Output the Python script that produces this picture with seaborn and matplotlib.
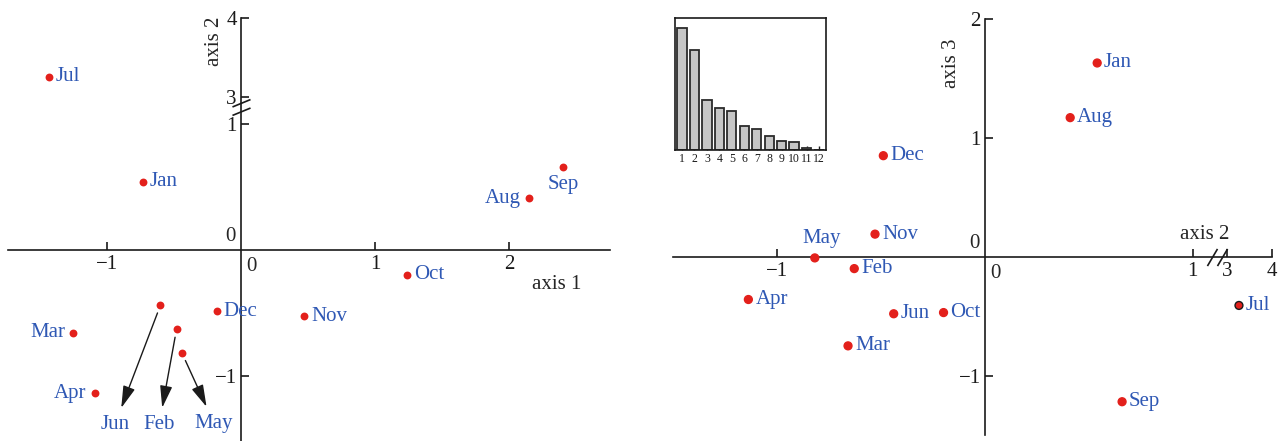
"""
Two ordination panels (axis 1 vs axis 2, axis 2 vs axis 3) with broken axes,
plus a small scree plot of eigenvalues in the second panel.
"""

import numpy as np
import pandas as pd
import matplotlib
matplotlib.use('Agg')
import matplotlib.pyplot as plt
from matplotlib.path import Path
import seaborn as sns

# ---- data ----
months = ['Jan', 'Feb', 'Mar', 'Apr', 'May', 'Jun',
          'Jul', 'Aug', 'Sep', 'Oct', 'Nov', 'Dec']
axis1 = [-0.73, -0.48, -1.25, -1.09, -0.44, -0.60, -1.43, 2.15, 2.40, 1.24, 0.47, -0.18]
axis2 = [0.54, -0.63, -0.66, -1.14, -0.82, -0.44, 3.26, 0.41, 0.66, -0.20, -0.53, -0.49]
axis3 = [1.63, -0.10, -0.75, -0.36, -0.01, -0.48, -0.41, 1.17, -1.22, -0.47, 0.19, 0.85]

components = ['1', '2', '3', '4', '5', '6', '7', '8', '9', '10', '11', '12']
eigenvalues = [3.65, 2.98, 1.50, 1.27, 1.16, 0.73, 0.62, 0.43, 0.28, 0.25, 0.07, 0.01]

scores = pd.DataFrame({'month': months, 'axis1': axis1, 'axis2': axis2, 'axis3': axis3})
scree = pd.DataFrame({'component': components, 'eigenvalue': eigenvalues})

# ---- style ----
sns.set_theme(style='ticks')
plt.rcParams['font.family'] = ['Liberation Serif', 'DejaVu Serif']
plt.rcParams['axes.unicode_minus'] = True

BLUE = '#2f58b4'
RED = '#e3201b'
FS = 15


def broken_scale(lo, hi, gap, squeeze):
    """Collapse (lo, hi) into a short gap and squeeze everything above hi."""
    xp = [-100.0, lo, hi, 100.0]
    fp = [-100.0, lo, lo + gap, lo + gap + (100.0 - hi) * squeeze]
    return (lambda v: np.interp(v, xp, fp)), (lambda t: np.interp(t, fp, xp))


def cross_axes(ax):
    for side in ['top', 'right']:
        ax.spines[side].set_visible(False)
    for side in ['left', 'bottom']:
        ax.spines[side].set_position(('data', 0))
        ax.spines[side].set_color('k')
        ax.spines[side].set_linewidth(1.2)
        ax.spines[side].set_zorder(1)
    ax.set_facecolor('none')
    ax.minorticks_off()
    ax.tick_params(axis='both', direction='in', length=6, width=1.2, colors='k',
                   labelsize=FS, labelcolor='k')
    ax.tick_params(axis='x', pad=4)
    ax.tick_params(axis='y', pad=3)
    ax.set_xlabel('')
    ax.set_ylabel('')
    # origin labels sit off the axes
    ax.annotate('0', xy=(0, 0), xytext=(-4, 3), textcoords='offset points',
                ha='right', va='bottom', fontsize=FS)
    ax.annotate('0', xy=(0, 0), xytext=(4, -5), textcoords='offset points',
                ha='left', va='top', fontsize=FS)


def label_points(ax, xs, ys, names, offsets):
    for x, y, name in zip(xs, ys, names):
        if name not in offsets:
            continue
        dx, dy, ha, va = offsets[name]
        ax.annotate(name, xy=(x, y), xytext=(dx, dy), textcoords='offset points',
                    ha=ha, va=va, color=BLUE, fontsize=FS)


R = (5, 0, 'left', 'center')
L = (-6, 0, 'right', 'center')

fig = plt.figure(figsize=(12.87, 4.41), dpi=100)

# ================= left panel: axis 1 vs axis 2 =================
ax1 = fig.add_axes([8 / 1287, 0.0, 602 / 1287, 423 / 441])
fwd, inv = broken_scale(1, 3, 0.212, 0.631)
ax1.set_yscale('function', functions=(fwd, inv))

sns.scatterplot(data=scores, x='axis1', y='axis2', ax=ax1, color=RED, s=32,
                edgecolor=RED, linewidth=0, legend=False, zorder=3, clip_on=False)
ax1.set_xlim(-1.737, 2.752)
ax1.set_ylim(-1.52, 4)
ax1.set_xticks([-1, 1, 2])
ax1.set_yticks([-1, 1, 3, 4])
cross_axes(ax1)

left_offsets = {'Jul': R, 'Jan': R, 'Oct': R, 'Nov': R, 'Dec': R,
                'Aug': L, 'Mar': L, 'Apr': L,
                'Sep': (0, -6, 'center', 'top')}
label_points(ax1, axis1, axis2, months, left_offsets)

# crowded points get arrows down to their labels
arrow_labels = {'Jun': (-0.94, -1.39), 'Feb': (-0.61, -1.39), 'May': (-0.20, -1.38)}
for x, y, name in zip(axis1, axis2, months):
    if name in arrow_labels:
        ax1.annotate(name, xy=(x, y), xytext=arrow_labels[name], textcoords='data',
                     ha='center', va='center', color=BLUE, fontsize=FS,
                     arrowprops=dict(arrowstyle='<|-,head_length=0.9,head_width=0.25',
                                     color='k', lw=1.0, shrinkA=3, shrinkB=6))

ax1.text(2.355, -0.272, 'axis 1', ha='center', va='center', fontsize=FS)
ax1.text(-0.20, 3.71, 'axis 2', ha='center', va='center', rotation=90, fontsize=FS)

brk_v = Path([(-1, -0.88), (1, -0.06), (-1, 0.06), (1, 0.88)],
             [Path.MOVETO, Path.LINETO, Path.MOVETO, Path.LINETO])
ax1.plot([0], [2.3], marker=brk_v, markersize=13, color='k', mew=1.2,
         linestyle='none', clip_on=False, zorder=4)

# ================= right panel: axis 2 vs axis 3 =================
ax2 = fig.add_axes([673 / 1287, 6 / 441, 599 / 1287, 416 / 441])
fwd, inv = broken_scale(1, 3, 0.167, 0.215)
ax2.set_xscale('function', functions=(fwd, inv))

edge = ['k' if m == 'Jul' else RED for m in months]
sns.scatterplot(data=scores, x='axis2', y='axis3', ax=ax2, color=RED, s=32,
                edgecolor=edge, linewidth=1.0, legend=False, zorder=3, clip_on=False)
ax2.set_xlim(-1.503, 4)
ax2.set_ylim(-1.5, 2)
ax2.set_xticks([-1, 1, 3, 4])
ax2.set_yticks([-1, 1, 2])
cross_axes(ax2)

right_offsets = {m: R for m in months}
right_offsets['May'] = (5, 14, 'center', 'center')
label_points(ax2, axis2, axis3, months, right_offsets)

ax2.text(-0.16, 1.63, 'axis 3', ha='center', va='center', rotation=90, fontsize=FS)
ax2.text(1.72, 0.19, 'axis 2', ha='center', va='center', fontsize=FS)

brk_h = Path([(-1, -0.85), (0, 0.85), (0, -0.85), (1, 0.85)],
             [Path.MOVETO, Path.LINETO, Path.MOVETO, Path.LINETO])
ax2.plot([2.4], [0], marker=brk_h, markersize=14.5, color='k', mew=1.2,
         linestyle='none', clip_on=False, zorder=4)

# ---- inset scree plot ----
axin = fig.add_axes([675 / 1287, 291 / 441, 151 / 1287, 132 / 441])
sns.barplot(data=scree, x='component', y='eigenvalue', ax=axin, color='#c6c6c6',
            saturation=1, edgecolor='#2b2b2b', linewidth=1.3, width=0.75)
axin.set_xlim(-0.56, 11.56)
axin.set_ylim(0, 3.95)
axin.set_xlabel('')
axin.set_ylabel('')
axin.set_yticks([])
axin.tick_params(axis='x', direction='in', length=3, width=1, colors='k',
                 labelsize=8.5, pad=2)
for side in axin.spines.values():
    side.set_visible(True)
    side.set_color('k')
    side.set_linewidth(1.2)
axin.set_facecolor('white')

fig.savefig('out.png', dpi=100)
